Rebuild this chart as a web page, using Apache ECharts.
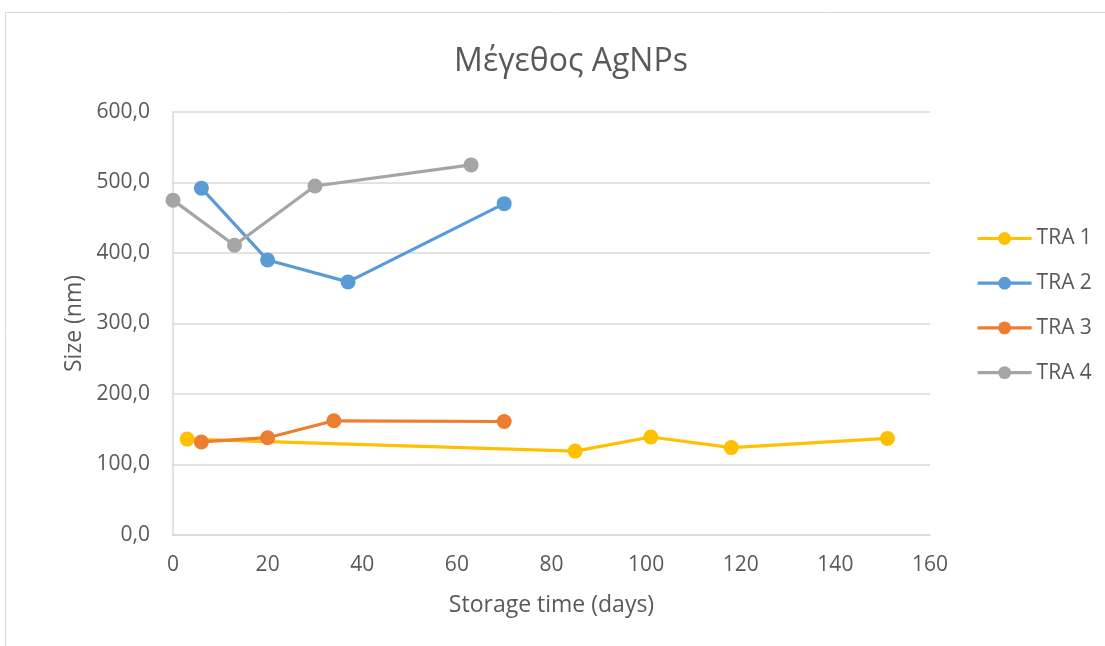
<!DOCTYPE html>
<html>
<head>
<meta charset="utf-8">
<script src="https://cdn.jsdelivr.net/npm/echarts@6/dist/echarts.min.js"></script>
<style>
  html, body { margin: 0; padding: 0; background: #fff; }
  #chart { width: 1105px; height: 646px; }
</style>
</head>
<body>
<div id="chart"></div>
<script>
// Storage time (days) and particle size (nm) for each batch
const seriesNames = ['TRA 1', 'TRA 2', 'TRA 3', 'TRA 4'];
const tra1Days = [3, 85, 101, 118, 151];
const tra1Size = [136, 119, 139, 124, 137];
const tra2Days = [6, 20, 37, 70];
const tra2Size = [492, 390, 359, 470];
const tra3Days = [6, 20, 34, 70];
const tra3Size = [132, 138, 162, 161];
const tra4Days = [0, 13, 30, 63];
const tra4Size = [475, 411, 495, 525];
const colors = ['#FFC000', '#5B9BD5', '#ED7D31', '#A5A5A5'];

const pairs = (xs, ys) => xs.map((x, i) => [x, ys[i]]);
const allData = [
  pairs(tra1Days, tra1Size),
  pairs(tra2Days, tra2Size),
  pairs(tra3Days, tra3Size),
  pairs(tra4Days, tra4Size)
];

const font = '"Open Sans", "DejaVu Sans", sans-serif';
const textGray = '#595959';

const chart = echarts.init(document.getElementById('chart'), null, { renderer: 'canvas' });
chart.setOption({
  animation: false,
  backgroundColor: '#fff',
  graphic: [{
    type: 'rect',
    shape: { x: 5.5, y: 12.5, width: 1110, height: 650 },
    style: { fill: 'none', stroke: '#d9d9d9', lineWidth: 1 },
    silent: true
  }],
  title: {
    text: 'Μέγεθος AgNPs',
    left: 566,
    textAlign: 'center',
    top: 41,
    textStyle: { fontFamily: font, fontSize: 32, fontWeight: 'normal', color: textGray }
  },
  grid: { left: 173, right: 175, top: 112, bottom: 111, containLabel: false },
  legend: {
    orient: 'vertical',
    left: 971,
    top: 223,
    itemWidth: 54,
    itemHeight: 16,
    itemGap: 23.7,
    lineStyle: { width: 3.2 },
    textStyle: { fontFamily: font, fontSize: 21, color: textGray },
    data: seriesNames
  },
  xAxis: {
    type: 'value',
    min: 0, max: 160, interval: 20,
    name: 'Storage time (days)',
    nameLocation: 'middle',
    nameGap: 59,
    nameTextStyle: { fontFamily: font, fontSize: 23, color: textGray },
    axisLine: { show: true, onZero: false, lineStyle: { color: '#d9d9d9', width: 1.5 } },
    axisTick: { show: false },
    axisLabel: { fontFamily: font, fontSize: 21, color: textGray, margin: 20 },
    splitLine: { show: false }
  },
  yAxis: {
    type: 'value',
    min: 0, max: 600, interval: 100,
    name: 'Size (nm)',
    nameLocation: 'middle',
    nameGap: 87,
    nameTextStyle: { fontFamily: font, fontSize: 23, color: textGray },
    axisLine: { show: true, lineStyle: { color: '#d9d9d9', width: 1.5 } },
    axisTick: { show: false },
    axisLabel: {
      fontFamily: font, fontSize: 21, color: textGray, margin: 23,
      formatter: v => v.toFixed(1).replace('.', ',')
    },
    splitLine: { show: true, lineStyle: { color: '#d9d9d9', width: 1.5 } }
  },
  series: seriesNames.map((name, i) => ({
    name: name,
    type: 'line',
    data: allData[i],
    color: colors[i],
    symbol: 'circle',
    symbolSize: 15,
    lineStyle: { width: 3.2, color: colors[i] },
    itemStyle: { color: colors[i] },
    z: 2 + i
  }))
});
</script>
</body>
</html>
